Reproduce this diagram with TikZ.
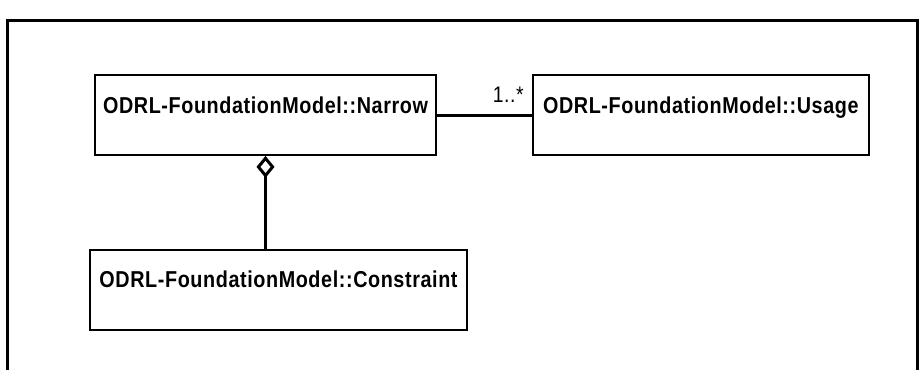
\documentclass[tikz,border=0pt]{standalone}
\usepackage{fontspec}
\setmainfont{Liberation Sans}[FakeStretch=0.86,LetterSpace=2.6]
\usetikzlibrary{arrows.meta,positioning}

\begin{document}
\begin{tikzpicture}[x=1pt,y=-1pt,
    umlclass/.style={rectangle, draw, line width=1.8pt,
    font=\fontsize{23}{27}\selectfont\bfseries, inner xsep=0pt,
    inner ysep=4pt, text height=34pt, text depth=38pt},
    assoc/.style={line width=3pt}]
  \useasboundingbox (0,0) rectangle (921,370);
  \draw[line width=3pt] (7,370) |- (917,20) -- (917,370);
  \node[umlclass,minimum width=341pt] (narrow) at (265.5,115) {ODRL-FoundationModel::Narrow};
  \node[umlclass,minimum width=336pt,right=95pt of narrow] (usage) {ODRL-FoundationModel::Usage};
  \node[umlclass,minimum width=377pt,below=93pt of narrow,xshift=13pt] (constraint) {ODRL-FoundationModel::Constraint};
  \node[font=\fontsize{22.5}{26}\selectfont,inner sep=0pt,above left=12pt and 8pt of usage.west] (mult) {1..*};
  \draw[assoc] (narrow) -- (usage);
  \draw[assoc,-{Diamond[open,length=22pt,width=18pt,line width=3pt]}] (narrow |- constraint.north) -- (narrow);
\end{tikzpicture}
\end{document}
